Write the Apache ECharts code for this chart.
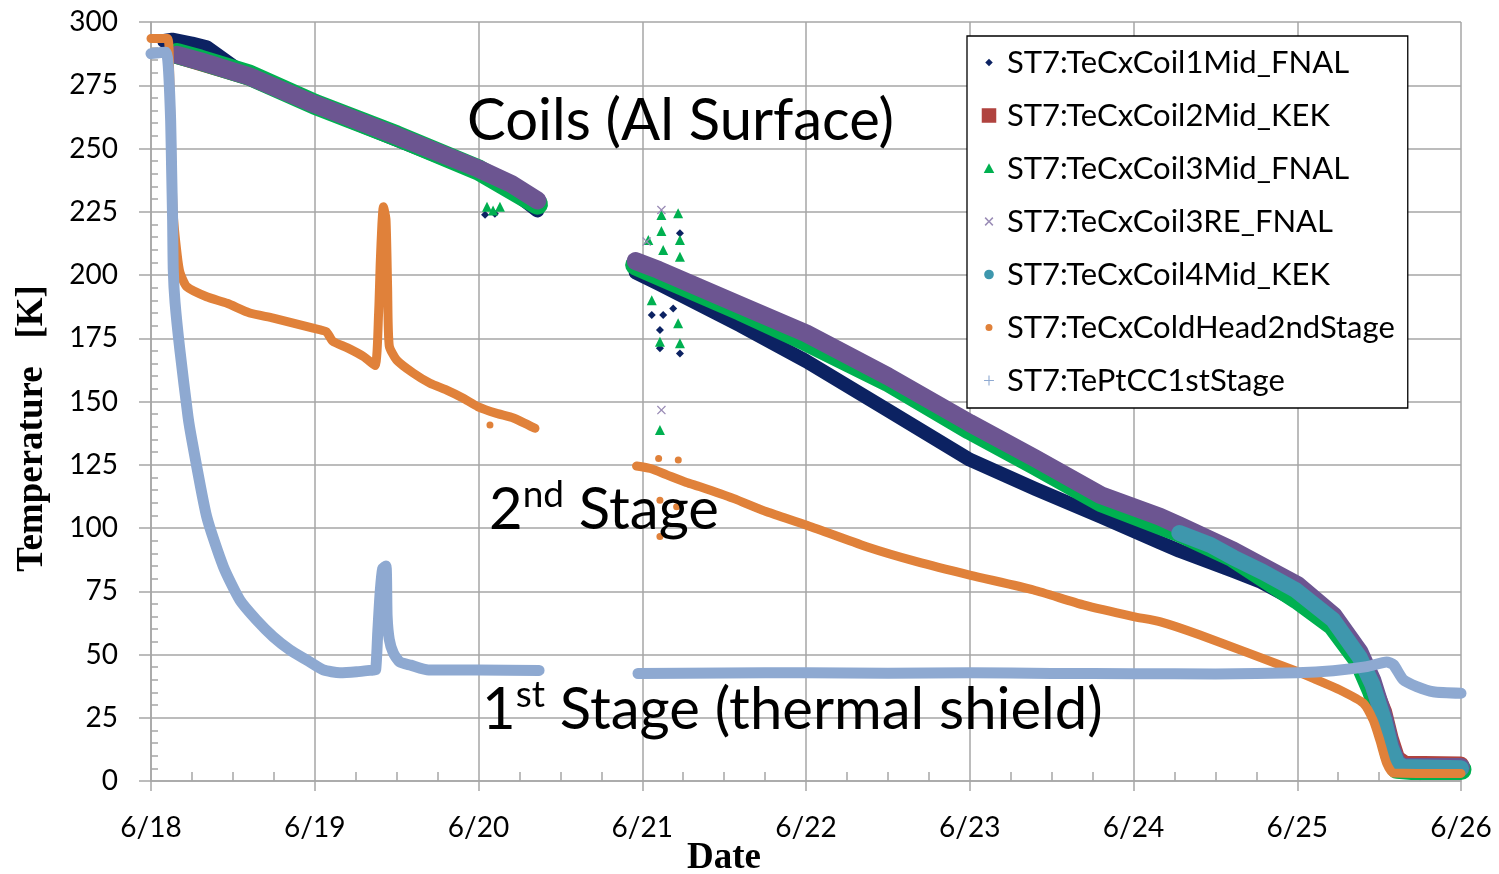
<!DOCTYPE html>
<html>
<head>
<meta charset="utf-8">
<script src="https://cdn.jsdelivr.net/npm/echarts@6/dist/echarts.min.js"></script>
<style>
  html, body { margin: 0; padding: 0; background: #ffffff; }
  #chart { width: 1499px; height: 874px; }
</style>
</head>
<body>
<div id="chart"></div>
<script>
// Cool-down record, June 18-26. x = day of June (fractional), y = temperature in K.
const xTickLabels = ['6/18', '6/19', '6/20', '6/21', '6/22', '6/23', '6/24', '6/25', '6/26'];
const yTicks = { min: 0, max: 300, step: 25 };

const seriesNames = [
  'ST7:TeCxCoil1Mid_FNAL',
  'ST7:TeCxCoil2Mid_KEK',
  'ST7:TeCxCoil3Mid_FNAL',
  'ST7:TeCxCoil3RE_FNAL',
  'ST7:TeCxCoil4Mid_KEK',
  'ST7:TeCxColdHead2ndStage',
  'ST7:TePtCC1stStage'
];

// empty point: breaks the trace where logging stopped
const GAP = ['-', '-'];

const coil1Mid = [
  [18.08, 292.5], [18.13, 293], [18.25, 291.5], [18.34, 290], [18.60, 278], [19.00, 266.5],
  [19.50, 253.5], [20.00, 240.5], [20.20, 233.5], [20.36, 225.5],
  GAP,
  [20.96, 201], [21.10, 196.5], [21.60, 180], [22.00, 166], [22.50, 146.5], [23.00, 127],
  [23.40, 115.5], [23.80, 104.5], [24.16, 94.3], [24.28, 91], [24.61, 83], [24.77, 79],
  [25.00, 71], [25.22, 61], [25.38, 47], [25.46, 36], [25.52, 23], [25.57, 11],
  [25.61, 5.5], [25.70, 5], [26.00, 5]
];
const coil1MidOutliers = [
  [21.058, 184.2], [21.128, 184.2], [21.108, 178.3], [21.108, 171], [21.23, 169],
  [21.189, 186.8], [21.23, 216.5], [20.04, 223.8], [20.10, 224.2]
];

const coil2Mid = [
  [18.16, 286.5], [18.60, 278], [19.00, 267], [19.50, 254.5], [20.00, 241.5], [20.36, 229],
  GAP,
  [20.96, 204.5], [21.60, 187], [22.00, 175.5], [22.50, 159], [23.00, 140.5], [23.40, 126.5],
  [23.80, 112], [24.16, 103.5], [24.28, 100], [24.61, 90], [25.00, 75], [25.22, 63],
  [25.38, 49], [25.46, 38.5], [25.53, 27.5], [25.57, 17], [25.61, 9], [25.66, 6.8], [26.00, 6.5]
];

const coil3Mid = [
  [18.16, 287.5], [18.30, 285], [18.60, 279], [19.00, 267.5], [19.50, 255], [20.00, 241.5], [20.36, 228],
  GAP,
  [20.96, 204], [21.10, 200], [21.60, 186], [22.00, 174], [22.50, 158], [23.00, 139],
  [23.40, 125], [23.80, 110.5], [24.16, 101.5], [24.28, 98.5], [24.61, 88.5], [25.00, 72],
  [25.22, 61.5], [25.38, 47.5], [25.46, 35.5], [25.53, 22], [25.57, 10.5], [25.61, 5],
  [25.70, 4.5], [26.00, 4.5]
];
const coil3MidOutliers = [
  [21.117, 223.7], [21.219, 224.4], [21.037, 213.8], [21.117, 217.4], [21.23, 213.8],
  [21.128, 209.9], [21.23, 207.2], [21.058, 190], [21.108, 173.6], [21.23, 173],
  [21.219, 180.9], [21.108, 138.7], [20.052, 227], [20.089, 225.5], [20.131, 227]
];

const coil3RE = [
  [18.16, 287], [18.30, 284.5], [18.60, 278.5], [19.00, 267.5], [19.50, 255], [20.00, 242],
  [20.20, 236], [20.36, 229.5],
  GAP,
  [20.96, 205.5], [21.10, 202], [21.60, 188], [22.00, 177], [22.50, 160], [23.00, 141.5],
  [23.40, 127.5], [23.80, 113], [24.16, 104.5], [24.28, 101], [24.61, 91], [25.00, 77.5],
  [25.22, 65.5], [25.38, 51], [25.46, 39.5], [25.53, 25], [25.57, 14], [25.61, 7],
  [25.65, 5.5], [26.00, 5.5]
];
const coil3REOutliers = [[21.117, 225.7], [21.117, 146.6], [21.027, 213.2]];

const coil4Mid = [
  [24.28, 98], [24.47, 93.3], [24.61, 88.3], [24.79, 82.6], [24.99, 75.5], [25.22, 63.6],
  [25.38, 49], [25.46, 38], [25.53, 24], [25.57, 13.6], [25.61, 7], [25.65, 5.5], [26.00, 5]
];

const coldHead2nd = [
  [18.00, 293.5], [18.10, 293.5], [18.112, 285], [18.125, 250], [18.136, 224], [18.16, 208],
  [18.177, 201], [18.218, 195.4], [18.34, 191.4], [18.465, 188.8], [18.603, 185], [18.747, 183],
  [18.99, 179], [19.07, 177.6], [19.11, 173.8], [19.20, 171.2], [19.30, 167.7], [19.368, 164.2],
  [19.39, 185], [19.40, 205], [19.41, 220], [19.419, 227], [19.435, 222], [19.445, 195],
  [19.455, 172], [19.50, 166.4], [19.602, 161.2], [19.704, 157.2], [19.806, 154.5],
  [19.907, 151.3], [19.995, 148], [20.111, 145.3], [20.213, 143.5], [20.345, 139.4],
  GAP,
  [20.965, 124.5], [21.05, 123.5], [21.15, 121], [21.27, 118], [21.353, 116.3], [21.556, 111.7],
  [21.76, 106.4], [22.00, 101.2], [22.37, 92.6], [22.676, 86.7], [23.00, 81.4], [23.39, 75.5],
  [23.694, 69.6], [24.00, 65], [24.16, 63], [24.406, 57.7], [24.992, 43.5], [25.119, 40],
  [25.261, 36], [25.403, 30.8], [25.464, 24], [25.505, 16], [25.546, 7], [25.587, 3.2], [26.00, 3]
];
const coldHead2ndOutliers = [
  [21.10, 127.5], [21.22, 126.9], [21.108, 111], [21.21, 108.4], [21.108, 96.6], [20.07, 140.7]
];

const stage1 = [
  [18.00, 287.5], [18.09, 288], [18.105, 283], [18.12, 261], [18.126, 241.5], [18.132, 221.7],
  [18.136, 202], [18.147, 189], [18.177, 170], [18.226, 144], [18.249, 135], [18.34, 104.5],
  [18.442, 84.7], [18.543, 71.5], [18.645, 63.6], [18.747, 57], [18.849, 51.8], [18.951, 47.8],
  [19.052, 43.9], [19.154, 42.8], [19.256, 43.2], [19.358, 43.9], [19.372, 44], [19.385, 59],
  [19.40, 75], [19.415, 84], [19.435, 85], [19.442, 65], [19.455, 56], [19.48, 50.6],
  [19.52, 47], [19.586, 45.8], [19.695, 43.9], [20.00, 43.9], [20.37, 43.7],
  GAP,
  [20.974, 42.5], [21.5, 42.7], [22.0, 42.8], [22.5, 42.6], [23.0, 42.8], [23.5, 42.5],
  [24.0, 42.4], [24.5, 42.3], [25.0, 42.8], [25.22, 43.6], [25.425, 45.2], [25.546, 47],
  [25.587, 46], [25.648, 40], [25.73, 37.3], [25.83, 35.3], [26.00, 34.7]
];

// ---- styling ----
const C = {
  coil1: '#0c2262',
  coil2: '#b0433f',
  coil3: '#00b050',
  coil3re: '#6c5591',
  coil3reMark: '#9a8cb6',
  coil4: '#3e97ad',
  cold: '#e0813a',
  stage1: '#8ea9d1',
  grid: '#a6a6a6'
};

// legend glyphs on a 20x20 canvas (corner moves keep the box size fixed)
const BOX = 'path://M0,0M20,20';
const ICONS = {
  diamond: BOX + 'M10,6.6L13.4,10L10,13.4L6.6,10Z',
  square: BOX + 'M3.4,3.4H16.6V16.6H3.4Z',
  triangle: BOX + 'M10,5.2L14.8,14H5.2Z',
  cross: BOX + 'M6,7L7,6L10,9L13,6L14,7L11,10L14,13L13,14L10,11L7,14L6,13L9,10Z',
  circle: BOX + 'M10,5.6A4.4,4.4,0,1,1,9.99,5.6Z',
  dot: BOX + 'M10,6.8A3.2,3.2,0,1,1,9.99,6.8Z',
  plus: BOX + 'M9.5,5.5H10.5V9.5H14.5V10.5H10.5V14.5H9.5V10.5H5.5V9.5H9.5Z'
};
const X_MARK = 'path://M0,1L1,0L5,4L9,0L10,1L6,5L10,9L9,10L5,6L1,10L0,9L4,5Z';

function band(name, data, color, width, smooth) {
  return {
    type: 'line', name, data, color,
    xAxisIndex: 0, yAxisIndex: 0,
    showSymbol: false, symbol: 'none', connectNulls: false,
    smooth: smooth || false,
    lineStyle: { color, width, cap: 'round', join: 'round' },
    itemStyle: { color },
    silent: true, animation: false
  };
}
function dots(name, data, color, symbol, size) {
  return {
    type: 'scatter', name, data, color,
    xAxisIndex: 0, yAxisIndex: 0,
    symbol, symbolSize: size,
    itemStyle: { color, opacity: 1 },
    silent: true, animation: false
  };
}

const axisGray = { color: C.grid, width: 1.5 };
const tickFont = { fontFamily: 'Lato', fontSize: 28, color: '#000' };
const noteRich = {
  b: { fontFamily: 'Lato', fontSize: 58, lineHeight: 66, fill: '#000' },
  s: { fontFamily: 'Lato', fontSize: 37, lineHeight: 42, verticalAlign: 'top', fill: '#000' }
};

const option = {
  backgroundColor: '#ffffff',
  animation: false,
  grid: [
    { left: 151, right: 38, top: 22, bottom: 93, containLabel: false, outerBoundsMode: 'none' },
    { left: 151, right: 38, top: 22, bottom: 93, containLabel: false, outerBoundsMode: 'none' }
  ],
  xAxis: [
    {
      type: 'value', gridIndex: 0, min: 18, max: 26, interval: 1,
      axisLine: { show: true, onZero: false, lineStyle: axisGray },
      axisTick: { show: true, length: 10, lineStyle: axisGray },
      axisLabel: Object.assign({ margin: 33, formatter: v => xTickLabels[Math.round(v - 18)] }, tickFont),
      splitLine: { show: true, lineStyle: axisGray },
      name: 'Date', nameLocation: 'middle', nameGap: 59, nameMoveOverlap: false,
      nameTextStyle: { fontFamily: 'Liberation Serif', fontWeight: 'bold', fontSize: 37, color: '#000', padding: [0, 164, 0, 0] }
    },
    {
      type: 'value', gridIndex: 1, min: 18, max: 26, interval: 1,
      axisLine: { show: false }, axisLabel: { show: false }, splitLine: { show: false },
      axisTick: { show: false, inside: true },
      minorTick: { show: true, splitNumber: 4, length: 9, lineStyle: axisGray }
    }
  ],
  yAxis: [
    {
      type: 'value', gridIndex: 0, min: yTicks.min, max: yTicks.max, interval: yTicks.step,
      axisLine: { show: true, onZero: false, lineStyle: axisGray },
      axisTick: { show: true, length: 12, lineStyle: axisGray },
      axisLabel: Object.assign({ margin: 33 }, tickFont),
      splitLine: { show: true, lineStyle: axisGray },
      name: 'Temperature   [K]', nameLocation: 'middle', nameGap: 100, nameMoveOverlap: false,
      nameTextStyle: { fontFamily: 'Liberation Serif', fontWeight: 'bold', fontSize: 37, color: '#000', padding: [0, 54, 0, 0] }
    },
    {
      type: 'value', gridIndex: 1, min: yTicks.min, max: yTicks.max, interval: yTicks.step,
      axisLine: { show: false }, axisLabel: { show: false }, splitLine: { show: false },
      axisTick: { show: false, inside: true },
      minorTick: { show: true, splitNumber: 5, length: 7, lineStyle: axisGray }
    }
  ],
  legend: {
    orient: 'vertical', left: 967, top: 36,
    padding: [11, 13, 12, 11],
    itemGap: 22, itemWidth: 22, itemHeight: 22,
    backgroundColor: '#ffffff', borderColor: '#000000', borderWidth: 1.3,
    selectedMode: false,
    itemStyle: { borderWidth: 0 },
    lineStyle: { width: 0, opacity: 0 },
    textStyle: { fontFamily: 'Lato', fontSize: 31, lineHeight: 30, color: '#000', padding: [0, 0, 0, 2] },
    data: [
      { name: seriesNames[0], icon: ICONS.diamond, itemStyle: { color: C.coil1 } },
      { name: seriesNames[1], icon: ICONS.square, itemStyle: { color: C.coil2 } },
      { name: seriesNames[2], icon: ICONS.triangle, itemStyle: { color: C.coil3 } },
      { name: seriesNames[3], icon: ICONS.cross, itemStyle: { color: C.coil3reMark } },
      { name: seriesNames[4], icon: ICONS.circle, itemStyle: { color: C.coil4 } },
      { name: seriesNames[5], icon: ICONS.dot, itemStyle: { color: C.cold } },
      { name: seriesNames[6], icon: ICONS.plus, itemStyle: { color: C.stage1 } }
    ]
  },
  graphic: [
    {
      type: 'text', x: 467, y: 88, z: 100, silent: true,
      style: { text: '{b|Coils (Al Surface)}', align: 'left', verticalAlign: 'top', rich: noteRich }
    },
    {
      type: 'text', x: 489, y: 477, z: 100, silent: true,
      style: { text: '{b|2}{s|nd}{b| Stage}', align: 'left', verticalAlign: 'top', rich: noteRich }
    },
    {
      type: 'text', x: 482, y: 677, z: 100, silent: true,
      style: { text: '{b|1}{s|st}{b| Stage (thermal shield)}', align: 'left', verticalAlign: 'top', rich: noteRich }
    }
  ],
  series: [
    band(seriesNames[0], coil1Mid, C.coil1, 14),
    dots(seriesNames[0], coil1MidOutliers, C.coil1, 'diamond', 8),
    band(seriesNames[1], coil2Mid, C.coil2, 16),
    band(seriesNames[2], coil3Mid, C.coil3, 21),
    dots(seriesNames[2], coil3MidOutliers, C.coil3, 'triangle', 10),
    band(seriesNames[3], coil3RE, C.coil3re, 18),
    dots(seriesNames[3], coil3REOutliers, C.coil3reMark, X_MARK, 9),
    band(seriesNames[4], coil4Mid, C.coil4, 16),
    band(seriesNames[5], coldHead2nd, C.cold, 9, 0.2),
    dots(seriesNames[5], coldHead2ndOutliers, C.cold, 'circle', 7),
    band(seriesNames[6], stage1, C.stage1, 11, 0.2)
  ]
};

const chart = echarts.init(document.getElementById('chart'), null, { renderer: 'canvas' });
chart.setOption(option);
</script>
</body>
</html>
